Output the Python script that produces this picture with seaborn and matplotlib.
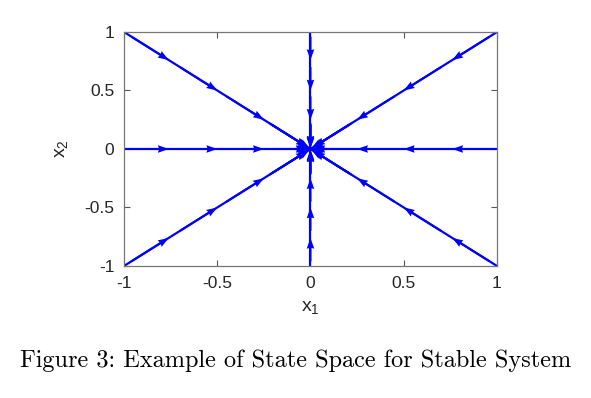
import numpy as np
import pandas as pd
import matplotlib
matplotlib.use("Agg")
import matplotlib.pyplot as plt
import seaborn as sns

# ---- data ----
ray_start_x = [1, 1, 1, 0, -1, -1, -1, 0]
ray_start_y = [1, 0, -1, -1, -1, 0, 1, 1]
arrow_fracs = [0.76, 0.50, 0.25, 0.02, 0.01, 0.003]
tick_vals = [-1, -0.5, 0, 0.5, 1]
tick_labels = ["-1", "-0.5", "0", "0.5", "1"]

sns.set_theme(style="white")
plt.rcParams['font.family'] = ['Liberation Sans', 'DejaVu Sans']
plt.rcParams['mathtext.fontset'] = 'custom'
plt.rcParams['mathtext.rm'] = 'Liberation Sans'
plt.rcParams['mathtext.it'] = 'Liberation Sans'
plt.rcParams['mathtext.default'] = 'regular'

rows = []
for i, (sx, sy) in enumerate(zip(ray_start_x, ray_start_y)):
    rows.append({"ray": i, "x": sx, "y": sy})
    rows.append({"ray": i, "x": 0, "y": 0})
df = pd.DataFrame(rows)

fig = plt.figure(figsize=(5.91, 3.98), dpi=100)
ax = fig.add_axes([0.2098, 0.3317, 0.6311, 0.5879])

sns.lineplot(data=df, x="x", y="y", units="ray", estimator=None, sort=False,
             color="#0000ff", lw=1.6, ax=ax, legend=False)

# arrowheads pointing to origin
X, Y, U, V = [], [], [], []
L = 0.2
for sx, sy in zip(ray_start_x, ray_start_y):
    for f in arrow_fracs:
        X.append(sx * f); Y.append(sy * f)
        U.append(-sx * L); V.append(-sy * L)
ax.quiver(X, Y, U, V, angles='xy', scale_units='xy', scale=1, pivot='tip',
          units='dots', color="#0000ff", width=2.0, headwidth=3.8,
          headlength=5.4, headaxislength=5.0, zorder=3)

ax.set_xlim(-1, 1)
ax.set_ylim(-1, 1)
ax.set_xticks(tick_vals)
ax.set_xticklabels(tick_labels)
ax.set_yticks(tick_vals)
ax.set_yticklabels(tick_labels)
ax.tick_params(direction='in', length=4, width=0.8, color='#555555',
               top=True, right=True, bottom=True, left=True,
               labelsize=12.5, labelcolor='#262626')
ax.tick_params(axis='x', pad=7)
ax.tick_params(axis='y', pad=7)
for s in ax.spines.values():
    s.set_color('#777777')
    s.set_linewidth(0.9)

ax.set_xlabel("x$_1$", fontsize=14, color='#262626', labelpad=6)
ax.set_ylabel("x$_2$", fontsize=14, color='#262626', labelpad=10)

fig.text(0.5, 0.093, "Figure 3: Example of State Space for Stable System",
         ha='center', va='center', fontsize=17.5, family='cmr10', color='black')

fig.savefig("out.png", dpi=100)
